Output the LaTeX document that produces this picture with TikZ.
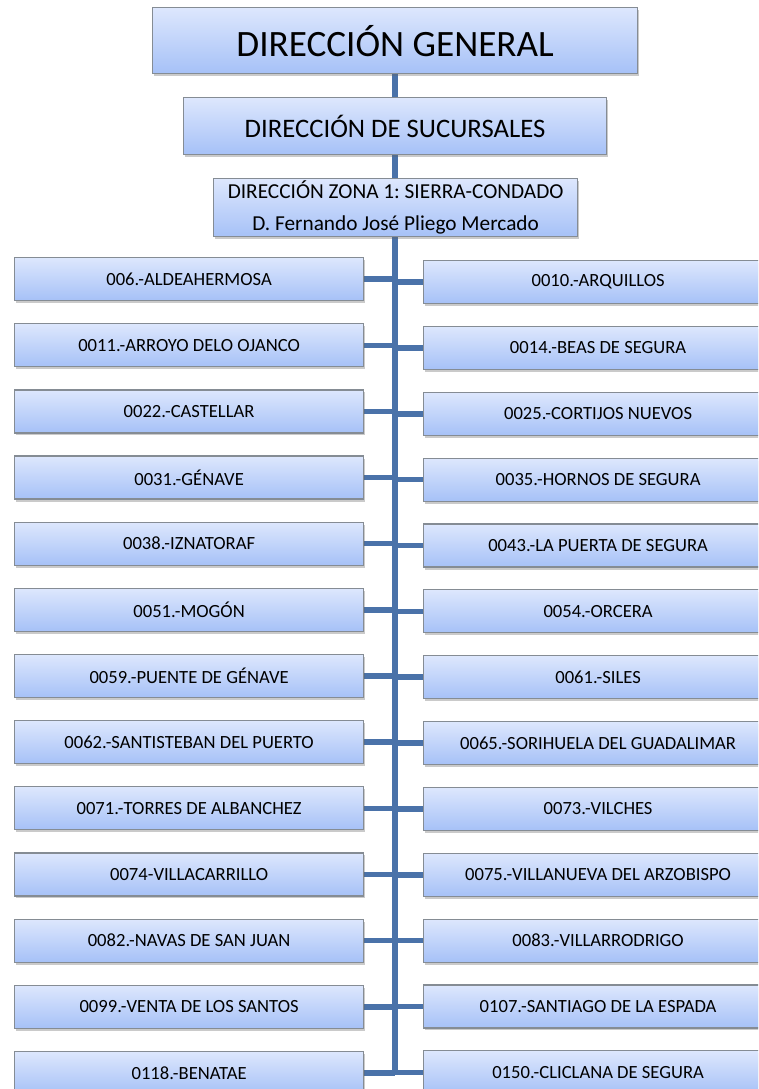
\documentclass[tikz,border=0pt]{standalone}
\usepackage{fontspec}
\setmainfont{Carlito}
\frenchspacing
\usetikzlibrary{shadows,calc}
\pgfdeclarelayer{background}
\pgfsetlayers{background,main}
\definecolor{boxtop}{HTML}{DDE7FD}
\definecolor{boxbot}{HTML}{A6C1F7}
\definecolor{boxline}{HTML}{858C94}
\definecolor{conn}{HTML}{4A72A9}
\tikzset{
  orgbox/.style={draw=boxline, line width=1.2pt, top color=boxtop, bottom color=boxbot,
    drop shadow={shadow xshift=1.5pt, shadow yshift=-2.5pt, opacity=0.35, fill=black!60},
    inner sep=0pt, anchor=north west, align=center},
  leaf/.style={orgbox, minimum width=349pt, minimum height=43pt, font=\fontsize{18.6}{21}\selectfont},
  link/.style={draw=conn, line width=5.5pt}
}
\begin{document}
\begin{tikzpicture}[x=1pt,y=-1pt]
\useasboundingbox (0,0) rectangle (758,1089);
\clip (0,0) rectangle (758,1089);
\node[orgbox, minimum width=485pt, minimum height=66pt, font=\fontsize{37.2}{42}\selectfont] (gen) at (152,7) {DIRECCIÓN GENERAL};
\node[orgbox, minimum width=423pt, minimum height=57pt, font=\fontsize{26.7}{30}\selectfont] (suc) at (183,97) {DIRECCIÓN DE SUCURSALES};
\node[orgbox, minimum width=364pt, minimum height=58pt, font=\fontsize{21.3}{32.5}\selectfont] (zona) at (213,178) {DIRECCIÓN ZONA 1: SIERRA-CONDADO\\D. Fernando José Pliego Mercado};
\foreach \t [count=\i from 0] in {006.-ALDEAHERMOSA, 0011.-ARROYO DELO OJANCO, 0022.-CASTELLAR, 0031.-GÉNAVE, 0038.-IZNATORAF, 0051.-MOGÓN, 0059.-PUENTE DE GÉNAVE, 0062.-SANTISTEBAN DEL PUERTO, 0071.-TORRES DE ALBANCHEZ, 0074-VILLACARRILLO, 0082.-NAVAS DE SAN JUAN, 0099.-VENTA DE LOS SANTOS, 0118.-BENATAE}
  {\node[leaf] (L\i) at (14,{257+66.15*\i}) {\t};}
\foreach \t [count=\i from 0] in {0010.-ARQUILLOS, 0014.-BEAS DE SEGURA, 0025.-CORTIJOS NUEVOS, 0035.-HORNOS DE SEGURA, 0043.-LA PUERTA DE SEGURA, 0054.-ORCERA, 0061.-SILES, 0065.-SORIHUELA DEL GUADALIMAR, 0073.-VILCHES, 0075.-VILLANUEVA DEL ARZOBISPO, 0083.-VILLARRODRIGO, 0107.-SANTIAGO DE LA ESPADA, 0150.-CLICLANA DE SEGURA}
  {\node[leaf, minimum width=380pt] (R\i) at (423,{260+65.85*\i}) {\makebox[349pt][c]{\t}\hspace*{31pt}};}
\coordinate (tb) at ($(gen.south |- L12.east)+(0,2)$);
\begin{pgfonlayer}{background}
  \draw[link] (gen.south) -- (tb);
  \foreach \i in {0,...,12}{
    \draw[link] (L\i.east) -- (L\i.east -| gen.south);
    \draw[link] (R\i.west) -- (R\i.west -| gen.south);
  }
\end{pgfonlayer}
\end{tikzpicture}
\end{document}
